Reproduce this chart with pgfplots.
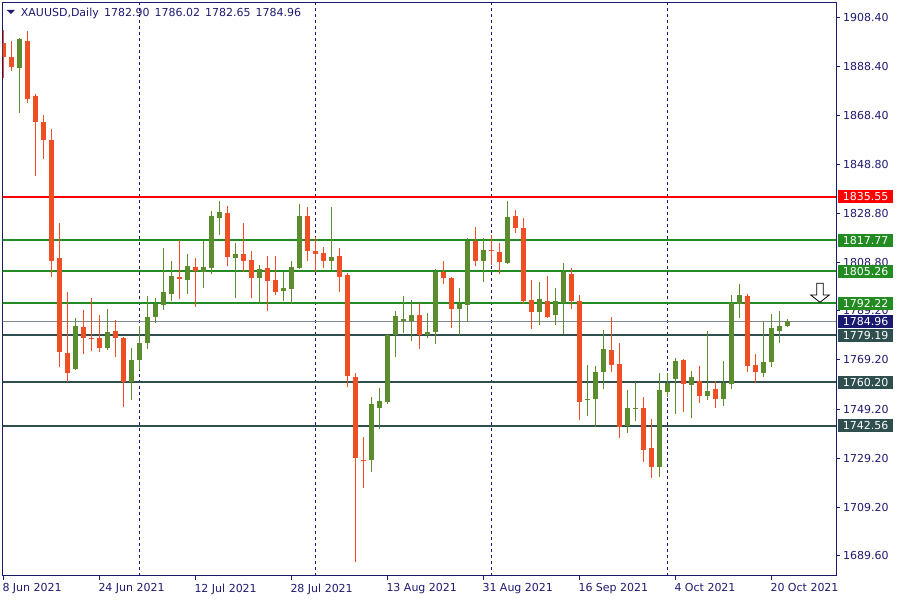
\documentclass[border=0pt]{standalone}
\usepackage{pgfplots}
\pgfplotsset{compat=1.18}
\usepackage{pgfplotstable}
\usepackage{fontspec}
\setmainfont{DejaVu Sans}
\definecolor{navytxt}{HTML}{1E1A6E}
\definecolor{frame}{HTML}{1A1A6E}
\definecolor{bull}{HTML}{5B8C2E}
\definecolor{bear}{HTML}{F04E23}
\definecolor{lvlred}{HTML}{FF0000}
\definecolor{lvlgreen}{HTML}{228B22}
\definecolor{lvldark}{HTML}{2F4F4F}
\definecolor{curline}{HTML}{808890}
\definecolor{curbox}{HTML}{191970}

\pgfplotstableread{
i o h l c
2 1887.98 1899.90 1869.35 1899.70
9 1765.40 1786.28 1765.30 1783.13
13 1774.26 1790.04 1773.06 1780.57
16 1760.29 1774.26 1752.78 1769.31
17 1769.01 1782.98 1764.95 1776.22
18 1775.92 1794.99 1773.81 1786.73
19 1786.58 1794.39 1784.03 1791.99
20 1791.39 1814.82 1789.59 1796.80
21 1796.05 1809.41 1793.19 1803.41
23 1801.75 1812.27 1796.05 1807.46
25 1805.06 1817.38 1798.30 1807.01
26 1806.71 1829.84 1804.01 1827.74
27 1826.99 1833.90 1819.78 1829.39
29 1810.47 1816.78 1794.54 1812.27
32 1802.66 1807.91 1792.29 1806.26
35 1797.10 1805.06 1793.04 1798.45
36 1797.85 1809.41 1791.99 1807.01
37 1806.41 1832.55 1806.20 1827.74
41 1809.56 1831.35 1805.81 1811.07
46 1728.45 1754.28 1723.49 1751.43
47 1749.48 1757.89 1741.21 1752.63
48 1752.03 1779.60 1751.13 1779.37
49 1779.37 1789.29 1770.21 1787.18
50 1785.23 1795.29 1779.97 1785.68
51 1785.23 1793.64 1776.82 1787.33
53 1779.37 1788.38 1778.02 1780.57
54 1780.57 1806.26 1775.77 1805.06
57 1789.74 1798.30 1779.22 1791.84
58 1791.39 1818.88 1784.48 1817.68
60 1809.26 1818.88 1801.00 1813.92
63 1808.66 1833.90 1808.36 1827.29
67 1788.53 1801.00 1783.28 1794.09
69 1787.33 1798.30 1783.28 1793.19
70 1792.29 1808.66 1779.82 1805.06
73 1752.78 1767.20 1746.62 1753.38
74 1753.23 1766.75 1741.96 1764.35
75 1764.20 1781.47 1757.29 1773.66
78 1742.42 1757.14 1739.71 1749.78
79 1749.48 1760.29 1744.22 1749.78
82 1725.89 1764.05 1721.69 1757.14
83 1756.09 1764.05 1753.98 1759.99
84 1761.34 1770.06 1747.22 1768.85
86 1758.94 1764.80 1745.42 1762.25
88 1754.73 1781.02 1752.78 1756.68
90 1753.23 1768.85 1750.53 1759.99
91 1759.24 1795.59 1757.44 1792.29
92 1791.99 1800.10 1786.28 1795.59
95 1763.75 1784.48 1762.25 1768.25
96 1768.25 1787.78 1766.30 1782.08
97 1781.02 1789.14 1775.92 1783.13
98 1782.90 1786.02 1782.65 1784.96
}\bulltable

\pgfplotstableread{
i o h l c
0 1898.19 1903.45 1883.62 1892.49
1 1892.19 1898.95 1886.63 1888.43
3 1898.80 1903.00 1873.71 1875.21
4 1876.41 1877.16 1844.12 1866.05
5 1865.90 1868.60 1850.88 1858.39
6 1858.69 1862.89 1803.11 1809.56
7 1810.77 1824.89 1766.45 1772.31
8 1772.16 1796.80 1760.44 1763.75
10 1782.68 1789.59 1771.71 1778.02
11 1778.32 1794.39 1772.76 1777.87
12 1778.02 1787.48 1772.31 1774.26
14 1781.02 1785.53 1770.21 1778.32
15 1778.32 1778.50 1749.93 1760.29
22 1802.96 1817.83 1793.79 1801.90
24 1807.01 1810.77 1790.79 1805.36
28 1828.94 1831.80 1807.46 1810.92
30 1812.27 1824.89 1804.76 1809.41
31 1809.86 1813.32 1794.24 1802.66
33 1806.56 1811.52 1788.98 1801.15
34 1801.75 1811.52 1795.74 1796.95
38 1827.74 1831.35 1809.41 1813.62
39 1813.47 1819.33 1805.06 1812.42
40 1812.72 1814.97 1806.41 1809.56
42 1811.52 1814.82 1796.95 1803.11
43 1803.86 1804.61 1758.04 1762.55
44 1762.40 1764.05 1687.14 1729.20
45 1728.60 1738.06 1717.18 1728.00
52 1787.33 1792.29 1773.81 1779.37
55 1805.06 1809.41 1800.10 1802.36
56 1802.51 1803.11 1782.08 1789.74
59 1817.68 1823.39 1807.31 1809.41
61 1813.92 1820.08 1807.91 1813.32
62 1813.17 1816.78 1804.31 1808.81
64 1827.74 1830.14 1820.83 1822.63
65 1822.93 1826.99 1791.99 1793.34
66 1793.64 1801.75 1781.62 1788.83
68 1793.19 1803.41 1786.28 1786.73
71 1804.16 1806.56 1790.04 1793.04
72 1793.19 1795.59 1744.67 1752.03
76 1773.36 1786.73 1764.20 1767.35
77 1767.65 1776.22 1737.31 1741.81
80 1749.78 1754.28 1727.70 1732.80
81 1733.55 1745.27 1721.24 1725.89
85 1769.31 1769.76 1747.97 1759.24
87 1760.74 1766.90 1751.73 1754.43
89 1757.29 1760.74 1749.48 1753.53
93 1795.29 1796.05 1764.50 1766.60
94 1767.20 1771.71 1759.69 1764.20
}\beartable

\begin{document}
\begin{tikzpicture}[font=\fontsize{11pt}{13pt}\selectfont]
\begin{axis}[
  at={(0pt,0pt)}, anchor=south west, scale only axis,
  width=833.3pt, height=572.5pt,
  xmin=-0.0375, xmax=104.125, ymin=1681.62, ymax=1914.25,
  axis line style={draw=frame, line width=1pt},
  xtick={0,12,24,36,48,60,72,84,96},
  xticklabels={8 Jun 2021,24 Jun 2021,12 Jul 2021,28 Jul 2021,13 Aug 2021,31 Aug 2021,16 Sep 2021,4 Oct 2021,20 Oct 2021},
  ytick={1689.6,1709.2,1729.2,1749.2,1769.2,1789.2,1808.8,1828.8,1848.8,1868.4,1888.4,1908.4},
  yticklabels={1689.60,1709.20,1729.20,1749.20,1769.20,1789.20,1808.80,1828.80,1848.80,1868.40,1888.40,1908.40},
  xtick pos=bottom, ytick pos=right, yticklabel pos=right,
  tick align=outside, major tick length=4pt,
  tick style={draw=frame, line width=1pt},
  tick label style={font=\fontsize{11pt}{13pt}\selectfont, text=navytxt},
  xticklabel style={anchor=north west, inner sep=0pt, xshift=-0.7pt, yshift=-4pt},
  yticklabel style={anchor=west, inner sep=0pt, xshift=3pt},
  extra x ticks={17,39,61,83}, extra x tick labels={},
  extra x tick style={grid=major, major tick length=0pt,
     major grid style={draw=frame, line width=1pt, dash pattern=on 3pt off 3pt}},
  candle/.style={draw=none, mark=none, forget plot,
     error bars/.cd, y dir=plus, y explicit, error mark=none},
]
% levels
\addplot[lvlred, line width=2pt, forget plot] coordinates {(-1,1835.55) (106,1835.55)};
\addplot[lvlgreen, line width=2pt, forget plot] coordinates {(-1,1817.77) (106,1817.77)};
\addplot[lvlgreen, line width=2pt, forget plot] coordinates {(-1,1805.26) (106,1805.26)};
\addplot[lvlgreen, line width=2pt, forget plot] coordinates {(-1,1792.22) (106,1792.22)};
\addplot[curline, line width=0.8pt, forget plot] coordinates {(-1,1784.96) (106,1784.96)};
\addplot[lvldark, line width=2pt, forget plot] coordinates {(-1,1779.19) (106,1779.19)};
\addplot[lvldark, line width=2pt, forget plot] coordinates {(-1,1760.20) (106,1760.20)};
\addplot[lvldark, line width=2pt, forget plot] coordinates {(-1,1742.56) (106,1742.56)};
% wicks
\addplot[candle, error bar style={line width=1pt, draw=bull, solid}]
  table[x=i, y=l, y error expr=\thisrow{h}-\thisrow{l}] {\bulltable};
\addplot[candle, error bar style={line width=1pt, draw=bear, solid}]
  table[x=i, y=l, y error expr=\thisrow{h}-\thisrow{l}] {\beartable};
% bodies
\addplot[candle, error bar style={line width=5pt, draw=bull, solid}]
  table[x=i, y=o, y error expr=\thisrow{c}-\thisrow{o}] {\bulltable};
\addplot[candle, error bar style={line width=5pt, draw=bear, solid}]
  table[x=i, y=c, y error expr=\thisrow{o}-\thisrow{c}] {\beartable};
\coordinate (L1) at (axis cs:104.125,1835.55);
\coordinate (L2) at (axis cs:104.125,1817.77);
\coordinate (L3) at (axis cs:104.125,1805.26);
\coordinate (L4) at (axis cs:104.125,1792.22);
\coordinate (L5) at (axis cs:104.125,1784.96);
\coordinate (L6) at (axis cs:104.125,1779.19);
\coordinate (L7) at (axis cs:104.125,1760.20);
\coordinate (L8) at (axis cs:104.125,1742.56);
\end{axis}
% price label boxes
\foreach \c/\col/\t in {L1/lvlred/1835.55, L2/lvlgreen/1817.77, L3/lvlgreen/1805.26, L4/lvlgreen/1792.22, L5/curbox/1784.96, L6/lvldark/1779.19, L7/lvldark/1760.20, L8/lvldark/1742.56}
  \node[fill=\col, text=white, anchor=west, minimum width=55pt, minimum height=13pt, inner sep=0pt, xshift=2pt] at (\c) {\t};
% title
\fill[navytxt] (4pt,565.5pt) -- (12.3pt,565.5pt) -- (8.15pt,561.5pt) -- cycle;
\node[anchor=base west, inner sep=0pt, text=navytxt] at (18pt,559pt) {XAUUSD,Daily};
\node[anchor=base west, inner sep=0pt, text=navytxt] at (101.3pt,559pt) {1782.90\hspace{5pt}1786.02\hspace{5pt}1782.65\hspace{5pt}1784.96};
% arrow
\draw[black, line width=0.8pt, fill=white, line join=miter] (814pt,292.2pt) -- (820.6pt,292.2pt) -- (820.6pt,280.5pt) -- (826.6pt,280.5pt) -- (817.3pt,273.2pt) -- (808pt,280.5pt) -- (814pt,280.5pt) -- cycle;
\pgfresetboundingbox
\path (-2.7pt,-24.5pt) rectangle (897.3pt,575.5pt);
\end{tikzpicture}
\end{document}
